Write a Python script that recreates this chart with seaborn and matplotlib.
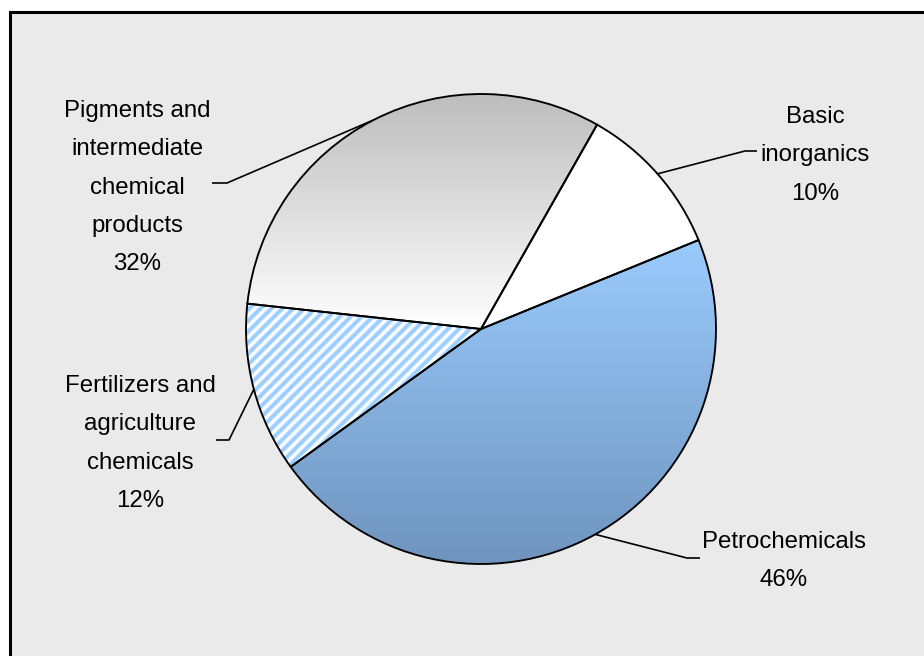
import numpy as np
import matplotlib
matplotlib.use("Agg")
import matplotlib.pyplot as plt
import seaborn as sns
from matplotlib.patches import Rectangle
from matplotlib.colors import LinearSegmentedColormap

# ---- data ----
categories = ["Basic inorganics", "Petrochemicals",
              "Fertilizers and agriculture chemicals",
              "Pigments and intermediate chemical products"]
shares = [10.6, 46.2, 11.7, 31.5]
label_texts = ["Basic\ninorganics\n10%",
               "Petrochemicals\n46%",
               "Fertilizers and\nagriculture\nchemicals\n12%",
               "Pigments and\nintermediate\nchemical\nproducts\n32%"]

# ---- style ----
sns.set_theme(style="white")
plt.rcParams['font.family'] = ['Liberation Sans', 'DejaVu Sans']

W, H = 924, 656
fig = plt.figure(figsize=(W / 100, H / 100), dpi=100)
fig.patch.set_facecolor("white")
ax = fig.add_axes([0, 0, 1, 1])
ax.set_axis_off()


def py(y):
    return H - y


# frame / plot area
frame = Rectangle((9.5, -30), 1000, py(11.5) + 30, facecolor="#eaeaea",
                  edgecolor="black", linewidth=2.2, zorder=0)
ax.add_patch(frame)

cx, cy, R = 481, py(329), 235
wedges, _ = ax.pie(shares, radius=R, center=(cx, cy), startangle=90 - 29.6,
                   counterclock=False, frame=True,
                   colors=["white", "none", "none", "none"],
                   wedgeprops=dict(edgecolor="black", linewidth=1.35, zorder=3))


def wedge_bbox(w):
    v = w.get_path().vertices
    return v[:, 0].min(), v[:, 0].max(), v[:, 1].min(), v[:, 1].max()


def gradient_fill(w, top_color, bottom_color):
    x0, x1, y0, y1 = wedge_bbox(w)
    cmap = LinearSegmentedColormap.from_list("g", [bottom_color, top_color])
    grad = np.linspace(0, 1, 256).reshape(-1, 1)
    im = ax.imshow(grad, cmap=cmap, extent=(x0, x1, y0, y1), origin="lower",
                   aspect="auto", zorder=2, interpolation="bilinear")
    im.set_clip_path(w)


# Petrochemicals: blue gradient
gradient_fill(wedges[1], "#9acbfd", "#6e93bd")
# Pigments: grey gradient
gradient_fill(wedges[3], "#bdbdbd", "#ffffff")

# Fertilizers: diagonal stripes
x0, x1, y0, y1 = wedge_bbox(wedges[2])
xs = np.arange(np.floor(x0), np.ceil(x1) + 1)
ys = np.arange(np.floor(y0), np.ceil(y1) + 1)
X, Y = np.meshgrid(xs, ys)
period = 11.0
phase = ((Y - X) % period) / period
val = np.clip(1.5 * (0.5 + 0.5 * np.cos(2 * np.pi * phase)) - 0.2, 0, 1)
scmap = LinearSegmentedColormap.from_list("s", ["#ffffff", "#99ccff"])
im = ax.imshow(val, cmap=scmap, extent=(xs[0], xs[-1], ys[0], ys[-1]),
               origin="lower", aspect="auto", zorder=2, interpolation="bilinear")
im.set_clip_path(wedges[2])

# ---- labels ----
label_pos = [(815, 123), (784, 548), (140, 392), (137, 117)]  # x centre, first baseline (px)
elbows = [((745, 151), (757, 151)),
          ((687, 558), (700, 558)),
          ((229, 440), (216, 440)),
          ((227, 183), (212, 183))]
line_step = 38.3
for w, txt, (lx, lb), (el, en) in zip(wedges, label_texts, label_pos, elbows):
    for i, line in enumerate(txt.split("\n")):
        ax.text(lx, py(lb + i * line_step), line, ha="center", va="baseline",
                fontsize=17.3, color="black", zorder=5)
    mid = np.deg2rad((w.theta1 + w.theta2) / 2)
    sx, sy = cx + R * np.cos(mid), cy + R * np.sin(mid)
    ax.plot([sx, el[0], en[0]], [sy, py(el[1]), py(en[1])], color="black",
            linewidth=1.2, zorder=4, solid_capstyle="butt")

ax.set_xlim(0, W)
ax.set_ylim(0, H)
ax.set_aspect("equal")
fig.savefig("out.png", dpi=100)
